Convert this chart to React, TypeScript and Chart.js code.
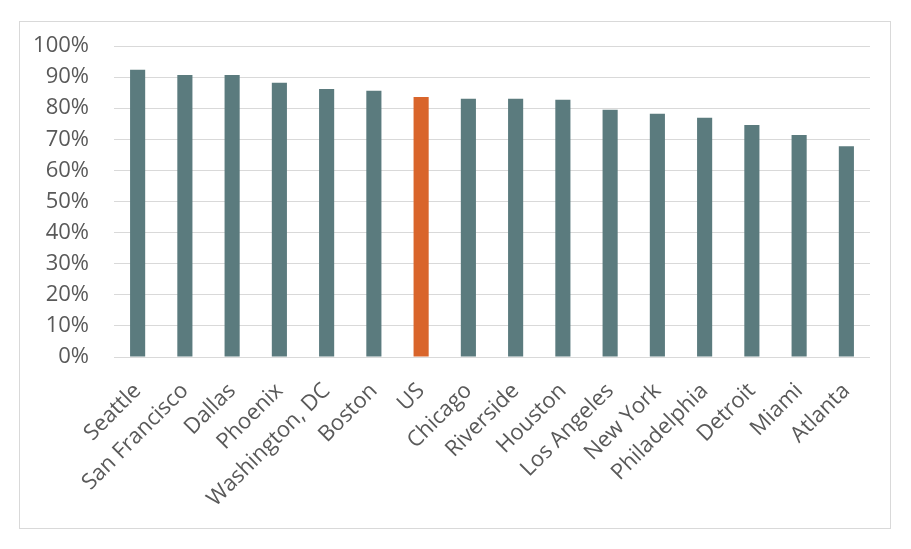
import React, { useEffect, useRef } from "react";
import { Chart, registerables } from "chart.js";

Chart.register(...registerables);

const categories = [
  "Seattle", "San Francisco", "Dallas", "Phoenix", "Washington, DC", "Boston", "US",
  "Chicago", "Riverside", "Houston", "Los Angeles", "New York", "Philadelphia",
  "Detroit", "Miami", "Atlanta",
];
const shares = [92.4, 90.7, 90.7, 88.2, 86.2, 85.6, 83.6, 83.0, 83.0, 82.7, 79.5, 78.2, 76.9, 74.6, 71.4, 67.8];
const highlight = "US";
const baseColor = "#5B7B7E";
const highlightColor = "#D9652B";

export default function App() {
  const ref = useRef<HTMLCanvasElement | null>(null);
  useEffect(() => {
    if (!ref.current) return;
    const font = { family: "'Open Sans', sans-serif", size: 22 };
    const chart = new Chart(ref.current, {
      type: "bar",
      data: {
        labels: categories,
        datasets: [
          {
            data: shares,
            backgroundColor: categories.map((c) => (c === highlight ? highlightColor : baseColor)),
            barPercentage: 0.32,
            categoryPercentage: 1,
          },
        ],
      },
      options: {
        animation: false,
        responsive: false,
        maintainAspectRatio: false,
        layout: { padding: { top: 24, right: 20, left: 0, bottom: 0 } },
        plugins: { legend: { display: false }, tooltip: { enabled: false } },
        scales: {
          x: {
            grid: { display: false },
            border: { display: false },
            ticks: { color: "#595959", font, maxRotation: 45, minRotation: 45, autoSkip: false, padding: 13 },
            afterFit: (s: any) => {
              s.height = 171;
              s.paddingTop = 0;
              s.paddingBottom = 0;
              s.paddingLeft = 0;
              s.paddingRight = 0;
            },
          },
          y: {
            min: 0,
            max: 100,
            grid: { color: "#D9D9D9", lineWidth: 1, drawTicks: false },
            border: { display: false },
            ticks: { stepSize: 10, color: "#595959", font, padding: 25, callback: (v: any) => v + "%" },
            afterFit: (s: any) => {
              s.width = 94;
              s.paddingTop = 0;
              s.paddingBottom = 0;
            },
          },
        },
      },
    });
    return () => chart.destroy();
  }, []);
  return (
    <div
      style={{
        position: "absolute",
        left: 19,
        top: 21,
        width: 870,
        height: 506,
        border: "1px solid #D9D9D9",
        background: "#fff",
      }}
    >
      <canvas ref={ref} width={870} height={506} style={{ display: "block" }} />
    </div>
  );
}
